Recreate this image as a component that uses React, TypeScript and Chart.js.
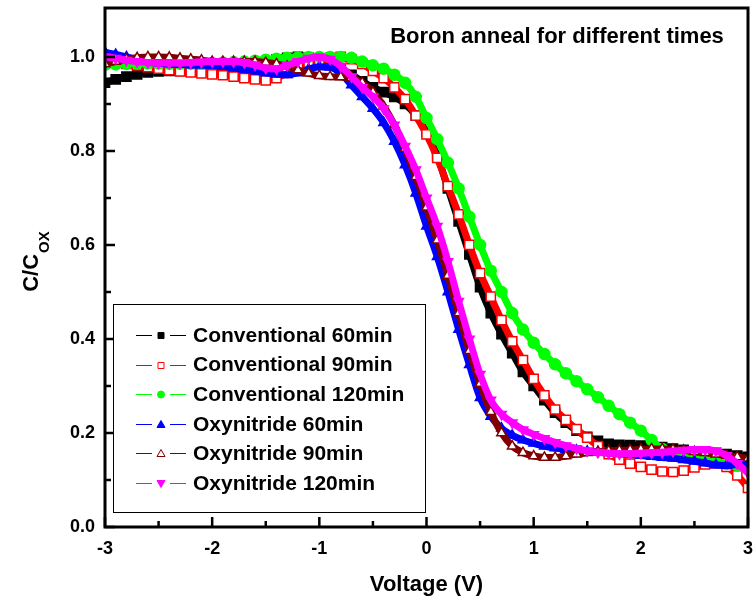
import { useEffect, useRef } from "react";
import { Chart, registerables } from "chart.js";
Chart.register(...registerables);

const voltage = [
  -3.0, -2.9, -2.8, -2.7, -2.6, -2.5, -2.4, -2.3, -2.2, -2.1,
  -2.0, -1.9, -1.8, -1.7, -1.6, -1.5, -1.4, -1.3, -1.2, -1.1,
  -1.0, -0.9, -0.8, -0.7, -0.6, -0.5, -0.4, -0.3, -0.2, -0.1,
  0.0, 0.1, 0.2, 0.3, 0.4, 0.5, 0.6, 0.7, 0.8, 0.9,
  1.0, 1.1, 1.2, 1.3, 1.4, 1.5, 1.6, 1.7, 1.8, 1.9,
  2.0, 2.1, 2.2, 2.3, 2.4, 2.5, 2.6, 2.7, 2.8, 2.9,
  3.0,
];

const conv60 = [
  0.945, 0.952, 0.958, 0.963, 0.967, 0.969, 0.970, 0.970, 0.970, 0.970,
  0.971, 0.973, 0.975, 0.978, 0.982, 0.988, 0.994, 0.998, 1.000, 0.998,
  0.993, 0.985, 0.975, 0.962, 0.948, 0.935, 0.925, 0.915, 0.900, 0.875,
  0.840, 0.790, 0.720, 0.650, 0.580, 0.510, 0.455, 0.410, 0.370, 0.330,
  0.300, 0.270, 0.243, 0.222, 0.205, 0.192, 0.183, 0.177, 0.175, 0.174,
  0.173, 0.172, 0.170, 0.167, 0.164, 0.161, 0.159, 0.157, 0.155, 0.152,
  0.149,
];
const conv90 = [
  0.990, 0.988, 0.985, 0.982, 0.978, 0.975, 0.972, 0.969, 0.967, 0.965,
  0.963, 0.961, 0.958, 0.955, 0.952, 0.950, 0.955, 0.966, 0.978, 0.987,
  0.993, 0.998, 1.000, 0.995, 0.985, 0.970, 0.955, 0.935, 0.910, 0.875,
  0.835, 0.785, 0.725, 0.665, 0.600, 0.540, 0.490, 0.440, 0.395, 0.355,
  0.315, 0.280, 0.250, 0.228, 0.208, 0.190, 0.172, 0.155, 0.143, 0.135,
  0.128, 0.122, 0.118, 0.117, 0.120, 0.127, 0.133, 0.136, 0.128, 0.110,
  0.083,
];
const conv120 = [
  0.983, 0.984, 0.985, 0.986, 0.986, 0.986, 0.985, 0.985, 0.985, 0.986,
  0.987, 0.988, 0.989, 0.990, 0.992, 0.994, 0.996, 0.998, 0.999, 1.000,
  1.000, 1.000, 1.000, 0.998, 0.990, 0.982, 0.975, 0.962, 0.945, 0.915,
  0.870, 0.825, 0.775, 0.720, 0.660, 0.600, 0.545, 0.500, 0.455, 0.420,
  0.392, 0.368, 0.346, 0.327, 0.310, 0.293, 0.276, 0.258, 0.240, 0.222,
  0.205, 0.185, 0.166, 0.156, 0.150, 0.146, 0.142, 0.138, 0.134, 0.131,
  0.128,
];
const oxy60 = [
  1.010, 1.005, 1.000, 0.995, 0.990, 0.987, 0.985, 0.984, 0.983, 0.983,
  0.982, 0.980, 0.977, 0.973, 0.970, 0.966, 0.963, 0.962, 0.966, 0.974,
  0.979, 0.978, 0.965, 0.940, 0.915, 0.890, 0.860, 0.820, 0.770, 0.710,
  0.640, 0.575, 0.500, 0.420, 0.345, 0.275, 0.235, 0.210, 0.195, 0.185,
  0.178, 0.172, 0.168, 0.165, 0.163, 0.161, 0.160, 0.158, 0.156, 0.154,
  0.152, 0.150, 0.148, 0.146, 0.143, 0.140, 0.136, 0.132, 0.131, 0.133,
  0.136,
];
const oxy90 = [
  0.985, 0.990, 0.995, 0.998, 1.000, 1.000, 0.999, 0.997, 0.995, 0.993,
  0.990, 0.990, 0.990, 0.990, 0.990, 0.988, 0.985, 0.980, 0.972, 0.965,
  0.960, 0.958, 0.957, 0.955, 0.945, 0.925, 0.895, 0.855, 0.805, 0.745,
  0.680, 0.610, 0.535, 0.455, 0.375, 0.305, 0.245, 0.200, 0.172, 0.158,
  0.151, 0.148, 0.148, 0.151, 0.155, 0.158, 0.160, 0.162, 0.163, 0.164,
  0.165, 0.166, 0.166, 0.165, 0.163, 0.160, 0.158, 0.155, 0.152, 0.149,
  0.146,
];
const oxy120 = [
  1.000, 0.997, 0.993, 0.990, 0.988, 0.987, 0.987, 0.987, 0.988, 0.989,
  0.990, 0.990, 0.990, 0.988, 0.983, 0.976, 0.975, 0.982, 0.990, 0.997,
  1.000, 0.995, 0.980, 0.958, 0.935, 0.915, 0.890, 0.855, 0.810, 0.760,
  0.700, 0.640, 0.565, 0.480, 0.400, 0.325, 0.270, 0.240, 0.222, 0.207,
  0.197, 0.188, 0.180, 0.173, 0.167, 0.162, 0.159, 0.157, 0.156, 0.156,
  0.157, 0.158, 0.159, 0.161, 0.163, 0.165, 0.165, 0.162, 0.152, 0.135,
  0.115,
];

const seriesNames = [
  "Conventional 60min",
  "Conventional 90min",
  "Conventional 120min",
  "Oxynitride 60min",
  "Oxynitride 90min",
  "Oxynitride 120min",
];
const seriesValues = [conv60, conv90, conv120, oxy60, oxy90, oxy120];
const seriesColors = ["#000000", "#ff0000", "#00ff00", "#0000ff", "#800000", "#ff00ff"];
const seriesMarkers = ["rect", "rect", "circle", "triangle", "triangle", "triangle"];
const seriesOpen = [false, true, false, false, true, false];
const seriesRotation = [0, 0, 0, 0, 0, 180];

const xTicks = [-3, -2, -1, 0, 1, 2, 3];
const xMinorTicks = [-2.5, -1.5, -0.5, 0.5, 1.5, 2.5];
const yTicks = [0, 0.2, 0.4, 0.6, 0.8, 1.0];
const yMinorTicks = [0.1, 0.3, 0.5, 0.7, 0.9];

const chartTitle = "Boron anneal for different times";
const xTitle = "Voltage (V)";
const yTitleMain = "C/C";
const yTitleSub = "OX";

const FONT = "'Liberation Sans', Arial, Helvetica, sans-serif";

function drawMarker(ctx: CanvasRenderingContext2D, i: number, x: number, y: number) {
  const color = seriesColors[i];
  ctx.save();
  ctx.fillStyle = seriesOpen[i] ? "#ffffff" : color;
  ctx.strokeStyle = color;
  ctx.lineWidth = 1;
  ctx.beginPath();
  const m = seriesMarkers[i];
  if (m === "rect") {
    ctx.rect(x - 3, y - 3, 6, 6);
  } else if (m === "circle") {
    ctx.arc(x, y, 3.5, 0, Math.PI * 2);
  } else {
    const down = seriesRotation[i] === 180;
    if (down) {
      ctx.moveTo(x - 4, y - 3);
      ctx.lineTo(x + 4, y - 3);
      ctx.lineTo(x, y + 4);
    } else {
      ctx.moveTo(x - 4, y + 3);
      ctx.lineTo(x + 4, y + 3);
      ctx.lineTo(x, y - 4);
    }
    ctx.closePath();
  }
  ctx.fill();
  ctx.stroke();
  ctx.restore();
}

const decorPlugin = {
  id: "decor",
  afterDraw(chart: any) {
    const ctx: CanvasRenderingContext2D = chart.ctx;
    const { left, right, top, bottom } = chart.chartArea;
    const xs = chart.scales.x;
    const ys = chart.scales.y;
    ctx.save();
    // frame
    ctx.strokeStyle = "#000";
    ctx.lineWidth = 3;
    ctx.strokeRect(left, top, right - left, bottom - top);
    // ticks (inward)
    ctx.lineWidth = 2.5;
    ctx.beginPath();
    xTicks.forEach((v) => {
      const px = xs.getPixelForValue(v);
      ctx.moveTo(px, bottom);
      ctx.lineTo(px, bottom - 10);
    });
    xMinorTicks.forEach((v) => {
      const px = xs.getPixelForValue(v);
      ctx.moveTo(px, bottom);
      ctx.lineTo(px, bottom - 6);
    });
    yTicks.forEach((v) => {
      const py = ys.getPixelForValue(v);
      ctx.moveTo(left, py);
      ctx.lineTo(left + 10, py);
    });
    yMinorTicks.forEach((v) => {
      const py = ys.getPixelForValue(v);
      ctx.moveTo(left, py);
      ctx.lineTo(left + 6, py);
    });
    ctx.stroke();

    // title
    ctx.fillStyle = "#000";
    ctx.font = `bold 22px ${FONT}`;
    ctx.textAlign = "center";
    ctx.textBaseline = "middle";
    ctx.fillText(chartTitle, 557, 37);

    // x title
    ctx.fillText(xTitle, (left + right) / 2, 585);

    // y title with subscript
    ctx.save();
    ctx.translate(38, 262);
    ctx.rotate(-Math.PI / 2);
    ctx.textAlign = "left";
    ctx.textBaseline = "alphabetic";
    ctx.font = `bold 22px ${FONT}`;
    const w1 = ctx.measureText(yTitleMain).width;
    ctx.font = `bold 15px ${FONT}`;
    const w2 = ctx.measureText(yTitleSub).width;
    const start = -(w1 + w2) / 2;
    ctx.font = `bold 22px ${FONT}`;
    ctx.fillText(yTitleMain, start, 0);
    ctx.font = `bold 15px ${FONT}`;
    ctx.fillText(yTitleSub, start + w1 + 1, 11);
    ctx.restore();

    // legend
    ctx.fillStyle = "#ffffff";
    ctx.fillRect(113, 304, 312, 208);
    ctx.strokeStyle = "#000";
    ctx.lineWidth = 1;
    ctx.strokeRect(113.5, 304.5, 312, 208);
    ctx.font = `bold 21px ${FONT}`;
    ctx.textAlign = "left";
    ctx.textBaseline = "middle";
    seriesNames.forEach((name, i) => {
      const y = 335 + i * 29.6;
      ctx.strokeStyle = seriesColors[i];
      ctx.lineWidth = 1;
      ctx.beginPath();
      ctx.moveTo(136, Math.round(y) + 0.5);
      ctx.lineTo(152, Math.round(y) + 0.5);
      ctx.moveTo(170, Math.round(y) + 0.5);
      ctx.lineTo(186, Math.round(y) + 0.5);
      ctx.stroke();
      drawMarker(ctx, i, 161, Math.round(y) + 0.5);
      ctx.fillStyle = "#000";
      ctx.fillText(name, 193, y + 1);
    });
    ctx.restore();
  },
};

const zeroPadding = (scale: any) => {
  scale.paddingTop = 0;
  scale.paddingBottom = 0;
  scale.paddingLeft = 0;
  scale.paddingRight = 0;
};

export default function App() {
  const canvasRef = useRef<HTMLCanvasElement | null>(null);

  useEffect(() => {
    if (!canvasRef.current) return;
    const datasets = seriesNames.map((name, i) => ({
      label: name,
      data: voltage.map((v, k) => ({ x: v, y: seriesValues[i][k] })),
      borderColor: seriesColors[i],
      borderWidth: 7,
      backgroundColor: seriesColors[i],
      pointStyle: seriesMarkers[i],
      pointRotation: seriesRotation[i],
      pointRadius: seriesMarkers[i] === "rect" ? 6.5 : 5.5,
      pointBackgroundColor: seriesOpen[i] ? "#ffffff" : seriesColors[i],
      pointBorderColor: seriesColors[i],
      pointBorderWidth: 1.5,
      tension: 0.4,
      cubicInterpolationMode: "monotone" as const,
      fill: false,
      order: seriesNames.length - i,
    }));

    const chart = new Chart(canvasRef.current, {
      type: "line",
      data: { datasets },
      options: {
        animation: false,
        responsive: false,
        layout: { padding: { top: 8, right: 8, left: 0, bottom: 0 } },
        plugins: {
          legend: { display: false },
          tooltip: { enabled: false },
          title: { display: false },
        },
        scales: {
          x: {
            type: "linear",
            min: -3,
            max: 3,
            grid: { display: false, drawTicks: false },
            border: { display: false },
            afterBuildTicks: (scale: any) => {
              scale.ticks = xTicks.map((v) => ({ value: v }));
            },
            afterFit: (scale: any) => {
              scale.height = 79;
              zeroPadding(scale);
            },
            ticks: {
              color: "#000",
              padding: 11,
              maxRotation: 0,
              autoSkip: false,
              font: { family: FONT, size: 18, weight: "bold" },
              callback: (v: any) => String(v),
            },
          },
          y: {
            type: "linear",
            min: 0,
            max: 1.104,
            grid: { display: false, drawTicks: false },
            border: { display: false },
            afterBuildTicks: (scale: any) => {
              scale.ticks = yTicks.map((v) => ({ value: v }));
            },
            afterFit: (scale: any) => {
              scale.width = 105;
              zeroPadding(scale);
            },
            ticks: {
              color: "#000",
              padding: 10,
              autoSkip: false,
              font: { family: FONT, size: 18, weight: "bold" },
              callback: (v: any) => Number(v).toFixed(1),
            },
          },
        },
      } as any,
      plugins: [decorPlugin],
    });
    return () => chart.destroy();
  }, []);

  return (
    <div style={{ position: "fixed", left: 0, top: 0, width: 756, height: 606, background: "#fff" }}>
      <canvas ref={canvasRef} width={756} height={606} style={{ display: "block" }} />
    </div>
  );
}
